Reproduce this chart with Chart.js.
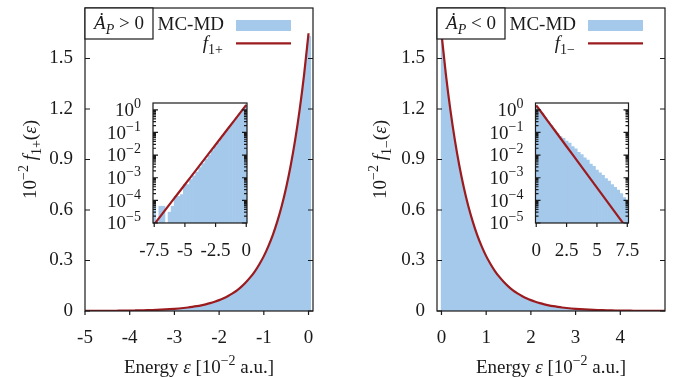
<!DOCTYPE html>
<html>
<head>
<meta charset="utf-8">
<script src="https://cdn.jsdelivr.net/npm/chart.js@4.4.1/dist/chart.umd.min.js"></script>
<style>
  html, body { margin: 0; padding: 0; background: #fff; }
  #wrap { position: relative; width: 676px; height: 377px; overflow: hidden; }
  canvas { position: absolute; }
</style>
</head>
<body>
<div id="wrap">
  <canvas id="mainL" width="338" height="377" style="left:0;top:0"></canvas>
  <canvas id="mainR" width="338" height="377" style="left:338px;top:0"></canvas>
  <canvas id="insetL" width="175" height="175" style="left:93px;top:95px"></canvas>
  <canvas id="insetR" width="175" height="175" style="left:475px;top:95px"></canvas>
</div>
<script>
const SERIF = '"Liberation Serif", "Times New Roman", serif';
const INK = '#1a1a1a';
const BLUE = '#a5c9eb';
const RED = '#9b1b1e';
const FS = 19;

// tick values
const yTicksMain = [0, 0.3, 0.6, 0.9, 1.2, 1.5];
const xTicksLeft = [-5, -4, -3, -2, -1, 0];
const xTicksRight = [0, 1, 2, 3, 4];
const xTicksInsetLeft = [-7.5, -5, -2.5, 0];
const xTicksInsetRight = [0, 2.5, 5, 7.5];
const insetDecades = [-5, -4, -3, -2, -1, 0];

// main panels: energy grid (10^-2 a.u.)
const leftEnergy = [-5.0,-4.9,-4.8,-4.7,-4.6,-4.5,-4.4,-4.3,-4.2,-4.1,-4.0,-3.9,-3.8,-3.7,-3.6,-3.5,-3.4,-3.3,-3.2,-3.1,
  -3.0,-2.9,-2.8,-2.7,-2.6,-2.5,-2.4,-2.3,-2.2,-2.1,-2.0,-1.9,-1.8,-1.7,-1.6,-1.5,-1.4,-1.3,-1.2,-1.1,
  -1.0,-0.9,-0.8,-0.7,-0.6,-0.5,-0.4,-0.3,-0.2,-0.1,0.0];
const rightEnergy = [0.0,0.1,0.2,0.3,0.4,0.5,0.6,0.7,0.8,0.9,1.0,1.1,1.2,1.3,1.4,1.5,1.6,1.7,1.8,1.9,
  2.0,2.1,2.2,2.3,2.4,2.5,2.6,2.7,2.8,2.9,3.0,3.1,3.2,3.3,3.4,3.5,3.6,3.7,3.8,3.9,
  4.0,4.1,4.2,4.3,4.4,4.5,4.6,4.7,4.8,4.9,5.0];

// f_{1+} fit (left) and MC-MD histogram
const leftFit = [0.0005,0.0006,0.0007,0.0008,0.0010,0.0011,0.0013,0.0015,0.0018,0.0021,0.0025,0.0030,0.0035,0.0041,0.0048,0.0057,0.0067,0.0079,0.0093,0.0109,
  0.0128,0.0150,0.0177,0.0208,0.0245,0.0288,0.0338,0.0397,0.0467,0.0550,0.0646,0.0760,0.0894,0.105,0.123,0.145,0.171,0.201,0.236,0.278,
  0.326,0.384,0.451,0.531,0.624,0.734,0.863,1.015,1.193,1.403,1.650];
const leftHist = [0.0004,0.0006,0.0006,0.0009,0.0009,0.0012,0.0012,0.0016,0.0017,0.0022,0.0024,0.0029,0.0034,0.0040,0.0047,0.0055,0.0065,0.0077,0.0090,0.0106,
  0.0124,0.0146,0.0172,0.0202,0.0238,0.0280,0.0330,0.0387,0.0456,0.0537,0.0632,0.0744,0.0877,0.103,0.121,0.143,0.168,0.198,0.233,0.274,
  0.322,0.380,0.446,0.526,0.618,0.728,0.857,1.008,1.186,1.396,1.640];
const leftHistEdge = [0.06, 1.63];

// f_{1-} fit (right) and MC-MD histogram
const rightFit = [1.650,1.403,1.193,1.015,0.863,0.734,0.624,0.531,0.451,0.384,0.326,0.278,0.236,0.201,0.171,0.145,0.123,0.105,0.0894,0.0760,
  0.0646,0.0550,0.0467,0.0397,0.0338,0.0288,0.0245,0.0208,0.0177,0.0150,0.0128,0.0109,0.0093,0.0079,0.0067,0.0057,0.0048,0.0041,0.0035,0.0030,
  0.0025,0.0021,0.0018,0.0015,0.0013,0.0011,0.0010,0.0008,0.0007,0.0006,0.0005];
const rightHist = [1.640,1.396,1.186,1.008,0.857,0.728,0.618,0.526,0.446,0.380,0.322,0.274,0.233,0.198,0.176,0.152,0.128,0.103,0.0877,0.0744,
  0.0632,0.0537,0.0456,0.0387,0.0330,0.0280,0.0238,0.0202,0.0172,0.0146,0.0124,0.0106,0.0090,0.0077,0.0065,0.0055,0.0047,0.0040,0.0034,0.0029,
  0.0024,0.0022,0.0017,0.0016,0.0012,0.0012,0.0009,0.0009,0.0006,0.0006,0.0004];
const rightHistEdge = [-0.02, 1.64];

// insets (log scale)
const insetLeftEnergy = [-7.5,-7.25,-7.0,-6.75,-6.5,-6.25,-6.0,-5.75,-5.5,-5.25,-5.0,-4.75,-4.5,-4.25,-4.0,-3.75,
  -3.5,-3.25,-3.0,-2.75,-2.5,-2.25,-2.0,-1.75,-1.5,-1.25,-1.0,-0.75,-0.5,-0.25,0.0];
const insetLeftHist = [5.5e-5,0,5.5e-5,5.5e-5,0,3e-5,5.5e-5,1.5e-4,1.5e-4,1.8e-4,5.0e-4,5.0e-4,8.3e-4,1.2e-3,1.78e-3,2.8e-3,
  4.2e-3,6.6e-3,0.010,0.0158,0.024,0.035,0.056,0.085,0.129,0.195,0.295,0.447,0.676,1.0,1.45];
const insetLeftFitX = [-7.5,-7.0,-6.5,-6.0,-5.5,-5.0,-4.5,-4.0,-3.5,-3.0,-2.5,-2.0,-1.5,-1.0,-0.5,0.0];
const insetLeftFit = [8.7e-6,1.96e-5,4.41e-5,9.91e-5,2.23e-4,5.01e-4,1.126e-3,2.53e-3,5.69e-3,0.01279,0.02875,0.0646,0.1453,0.3265,0.734,1.65];

const insetRightEnergy = [0.0,0.25,0.5,0.75,1.0,1.25,1.5,1.75,2.0,2.25,2.5,2.75,3.0,3.25,3.5,3.75,
  4.0,4.25,4.5,4.75,5.0,5.25,5.5,5.75,6.0,6.25,6.5,6.75,7.0,7.25,7.5];
const insetRightHist = [1.45,1.05,0.692,0.457,0.302,0.200,0.132,0.0912,0.0661,0.0550,0.0417,0.0339,0.0240,0.0191,0.0132,0.0105,
  0.00759,0.00603,0.00398,0.00316,0.00219,0.00166,0.00126,0.000912,0.000708,0.000501,0.000380,0.000282,0.000200,0.000132,0.0000912];
const insetRightFitX = [0.0,0.5,1.0,1.5,2.0,2.5,3.0,3.5,4.0,4.5,5.0,5.5,6.0,6.5,7.0,7.5];
const insetRightFit = [1.585,0.686,0.296,0.128,0.0555,0.0240,0.01038,0.00449,0.00194,0.000839,0.000363,0.000157,6.79e-5,2.94e-5,1.27e-5,5.5e-6];

// text with italic / sub / superscript pieces
function rich(ctx, parts, x, y, align) {
  const fontOf = p => (p.i ? 'italic ' : '') + (p.s ? Math.round(FS * 0.72) : FS) + 'px ' + SERIF;
  let w = 0;
  const widths = parts.map(p => { ctx.font = fontOf(p); const m = ctx.measureText(p.t).width; w += m; return m; });
  let cx = align === 'right' ? x - w : align === 'center' ? x - w / 2 : x;
  ctx.textAlign = 'left';
  ctx.textBaseline = 'alphabetic';
  parts.forEach((p, k) => {
    ctx.font = fontOf(p);
    const dy = p.s === 'sup' ? -FS * 0.42 : p.s === 'sub' ? FS * 0.25 : 0;
    ctx.fillText(p.t, cx, y + dy);
    cx += widths[k];
  });
}

const frame = {
  id: 'frame',
  beforeDraw(chart, args, o) {
    if (!o.white) return;
    const a = chart.chartArea, ctx = chart.ctx;
    ctx.save();
    ctx.fillStyle = '#fff';
    ctx.fillRect(a.left, a.top, a.right - a.left, a.bottom - a.top);
    ctx.restore();
  },
  afterDraw(chart, args, o) {
    const { ctx, chartArea: a, scales: { x, y } } = chart;
    ctx.save();
    ctx.strokeStyle = INK;
    ctx.lineWidth = 1.2;
    ctx.beginPath();
    x.ticks.forEach(t => {
      const p = x.getPixelForValue(t.value);
      ctx.moveTo(p, a.bottom); ctx.lineTo(p, a.bottom + 4);
    });
    y.ticks.forEach(t => {
      const p = y.getPixelForValue(t.value);
      const len = t.minor ? 3 : 5;
      ctx.moveTo(a.left, p); ctx.lineTo(a.left + len, p);
      ctx.moveTo(a.right, p); ctx.lineTo(a.right - len, p);
    });
    ctx.stroke();
    ctx.strokeRect(a.left, a.top, a.right - a.left, a.bottom - a.top);
    ctx.fillStyle = INK;

    if (o.logLabels) {
      y.ticks.filter(t => !t.minor).forEach(t => {
        const e = Math.round(Math.log10(t.value));
        rich(ctx, [{ t: '10' }, { t: e === 0 ? '0' : '\u2212' + (-e), s: 'sup' }],
          a.left - 12, y.getPixelForValue(t.value) + FS * 0.33, 'right');
      });
    }
    if (o.sign) {
      const cy = (a.top + a.bottom) / 2;
      ctx.save();
      ctx.translate(o.yTitleX, cy);
      ctx.rotate(-Math.PI / 2);
      rich(ctx, [{ t: '10' }, { t: '\u22122', s: 'sup' }, { t: ' ' }, { t: 'f', i: 1 }, { t: '1' + o.sign, s: 'sub' },
        { t: '(' }, { t: '\u03b5', i: 1 }, { t: ')' }], 0, FS * 0.33, 'center');
      ctx.restore();
      rich(ctx, [{ t: 'Energy ' }, { t: '\u03b5', i: 1 }, { t: ' [10' }, { t: '\u22122', s: 'sup' }, { t: ' a.u.]' }],
        (a.left + a.right) / 2, 373, 'center');

      // legend
      const L = a.left, T = a.top;
      ctx.fillStyle = '#fff';
      ctx.fillRect(L, T, 68, 31);
      ctx.strokeRect(L, T, 68, 31);
      ctx.fillStyle = INK;
      rich(ctx, [{ t: '\u0226', i: 1 }, { t: 'P', i: 1, s: 'sub' }, { t: ' ' + (o.sign === '+' ? '>' : '<') + ' 0' }],
        L + 34, T + 21, 'center');
      rich(ctx, [{ t: 'MC-MD' }], L + 139, T + 22, 'right');
      rich(ctx, [{ t: 'f', i: 1 }, { t: '1' + o.sign, s: 'sub' }], L + 138, T + 41, 'right');
      ctx.fillStyle = BLUE;
      ctx.fillRect(L + 151, T + 12, 55, 11);
      ctx.strokeStyle = RED;
      ctx.lineWidth = 2.2;
      ctx.beginPath();
      ctx.moveTo(L + 151, T + 35.3); ctx.lineTo(L + 206, T + 35.3);
      ctx.stroke();
    }
    ctx.restore();
  }
};

const pts = (xs, ys) => xs.map((v, i) => ({ x: v, y: ys[i] }));
const noPad = s => { s.paddingTop = 0; s.paddingBottom = 0; s.paddingLeft = 0; s.paddingRight = 0; };

function mainChart(id, histX, histY, fitX, fitY, xMin, xMax, xTicks, yw, padR, frameOpts) {
  return new Chart(document.getElementById(id), {
    type: 'line',
    data: {
      datasets: [
        { data: pts(fitX, fitY), borderColor: RED, borderWidth: 2.2, pointRadius: 0,
          cubicInterpolationMode: 'monotone', fill: false, order: 0 },
        { data: pts(histX, histY), borderColor: BLUE, borderWidth: 0, backgroundColor: BLUE,
          pointRadius: 0, tension: 0, fill: 'origin', order: 1 }
      ]
    },
    options: {
      responsive: false, animation: false, devicePixelRatio: 1, events: [],
      layout: { padding: { left: 0, top: 8, right: padR, bottom: 0 } },
      plugins: { legend: { display: false }, tooltip: { enabled: false }, frame: frameOpts },
      scales: {
        x: {
          type: 'linear', min: xMin, max: xMax,
          grid: { display: false, drawTicks: false }, border: { display: false },
          ticks: { padding: 16, autoSkip: false, color: INK, font: { family: SERIF, size: FS }, maxRotation: 0, callback: v => String(v) },
          afterBuildTicks: s => { s.ticks = xTicks.map(v => ({ value: v })); },
          afterFit: s => { s.height = 66; noPad(s); }
        },
        y: {
          min: 0, max: 1.8,
          grid: { display: false, drawTicks: false }, border: { display: false },
          ticks: { padding: 12, autoSkip: false, color: INK, font: { family: SERIF, size: FS }, callback: v => String(v) },
          afterBuildTicks: s => { s.ticks = yTicksMain.map(v => ({ value: v })); },
          afterFit: s => { s.width = yw; noPad(s); }
        }
      }
    },
    plugins: [frame]
  });
}

function logTicks() {
  const t = [];
  insetDecades.forEach(d => {
    for (let m = 1; m <= 9; m++) {
      const v = m * Math.pow(10, d);
      if (v < 1.99) t.push({ value: v, minor: m > 1 });
    }
  });
  return t;
}

function insetChart(id, histX, histY, fitX, fitY, xMin, xMax, xTicks, yw, padR) {
  return new Chart(document.getElementById(id), {
    type: 'bar',
    data: {
      datasets: [
        { type: 'line', data: pts(fitX, fitY), borderColor: RED, borderWidth: 2.2, pointRadius: 0, order: 0 },
        { type: 'bar', data: pts(histX, histY), backgroundColor: BLUE, borderWidth: 0,
          barPercentage: 1, categoryPercentage: 1, order: 1 }
      ]
    },
    options: {
      responsive: false, animation: false, devicePixelRatio: 1, events: [],
      layout: { padding: { left: 0, top: 8, right: padR, bottom: 0 } },
      plugins: { legend: { display: false }, tooltip: { enabled: false }, frame: { white: true, logLabels: true } },
      scales: {
        x: {
          type: 'linear', offset: false, min: xMin, max: xMax,
          grid: { display: false, drawTicks: false, offset: false }, border: { display: false },
          ticks: { padding: 17, autoSkip: false, color: INK, font: { family: SERIF, size: FS }, maxRotation: 0, callback: v => String(v) },
          afterBuildTicks: s => { s.ticks = xTicks.map(v => ({ value: v })); },
          afterFit: s => { s.height = 47; noPad(s); }
        },
        y: {
          type: 'logarithmic', min: 1e-5, max: 2,
          grid: { display: false, drawTicks: false }, border: { display: false },
          ticks: { display: false },
          afterBuildTicks: s => { s.ticks = logTicks(); },
          afterFit: s => { s.width = yw; noPad(s); }
        }
      }
    },
    plugins: [frame]
  });
}

mainChart('mainL', [...leftEnergy, leftHistEdge[0], leftHistEdge[0]], [...leftHist, leftHistEdge[1], 0],
  leftEnergy, leftFit, -5, 0.1, xTicksLeft, 85, 25, { sign: '+', yTitleX: 30 });
mainChart('mainR', [rightHistEdge[0], rightHistEdge[0], ...rightEnergy], [0, rightHistEdge[1], ...rightHist],
  rightEnergy, rightFit, -0.1, 5, xTicksRight, 99, 11, { sign: '\u2212', yTitleX: 42 });
insetChart('insetL', insetLeftEnergy, insetLeftHist, insetLeftFitX, insetLeftFit, -7.6, 0.06, xTicksInsetLeft, 60, 21);
insetChart('insetR', insetRightEnergy, insetRightHist, insetRightFitX, insetRightFit, -0.06, 7.6, xTicksInsetRight, 60.5, 21.5);
</script>
</body>
</html>
